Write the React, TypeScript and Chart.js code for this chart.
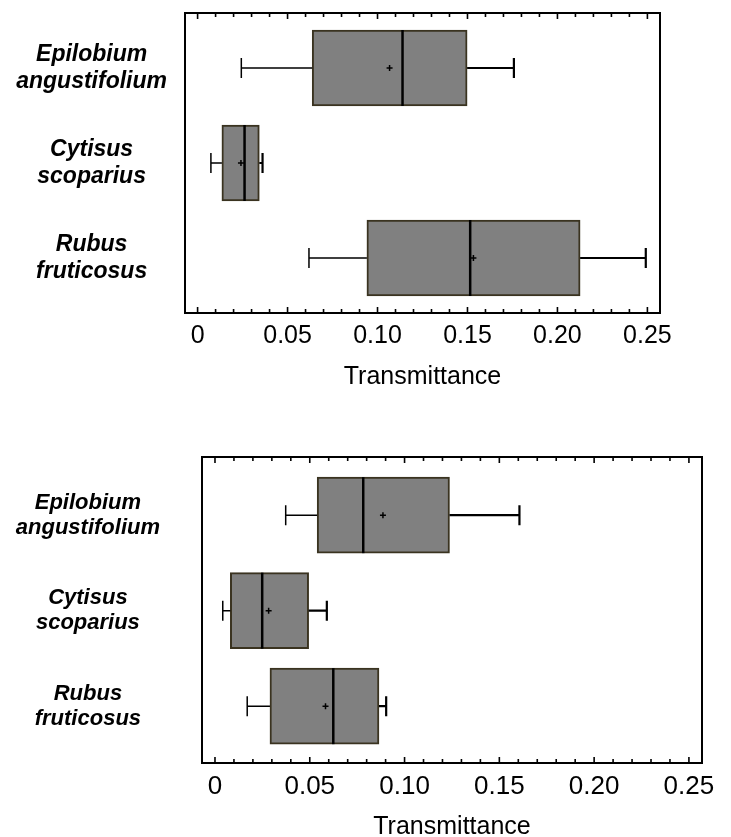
import React, { useEffect, useRef } from 'react';
import { Chart, registerables } from 'chart.js';

Chart.register(...registerables);

// ---------- data ----------
const categories: string[][] = [
  ['Epilobium', 'angustifolium'],
  ['Cytisus', 'scoparius'],
  ['Rubus', 'fruticosus'],
];
const xTickValues = [0, 0.05, 0.1, 0.15, 0.2, 0.25];
const xTickLabels = ['0', '0.05', '0.10', '0.15', '0.20', '0.25'];
const axisTitle = 'Transmittance';

// upper panel
const aWhiskerLow = [0.0243, 0.0074, 0.0619];
const aQ1 = [0.0637, 0.0135, 0.0941];
const aMedian = [0.1139, 0.0261, 0.1515];
const aQ3 = [0.1498, 0.0343, 0.2126];
const aWhiskerHigh = [0.1758, 0.0361, 0.2491];
const aMean = [0.1067, 0.0241, 0.1533];

// lower panel
const bWhiskerLow = [0.0373, 0.0041, 0.017];
const bQ1 = [0.0539, 0.0081, 0.029];
const bMedian = [0.0782, 0.0249, 0.0624];
const bQ3 = [0.1237, 0.0494, 0.0865];
const bWhiskerHigh = [0.1606, 0.059, 0.0903];
const bMean = [0.0886, 0.0283, 0.0583];

const FONT = '"Liberation Sans", Arial, Helvetica, sans-serif';

type PanelProps = {
  top: number;
  height: number;
  low: number[];
  q1: number[];
  median: number[];
  q3: number[];
  high: number[];
  mean: number[];
  xMin: number;
  xMax: number;
  yMin: number;
  yMax: number;
  padding: { top: number; right: number; bottom: number; left: number };
  yAxisWidth: number;
  xAxisHeight: number;
  labelSize: number;
  labelPadding: number;
  tickSize: number;
  tickPadding: number;
  titleLineHeight: number;
  titlePadBottom: number;
};

function makeBoxPlugin(p: PanelProps) {
  return {
    id: 'boxExtras',
    afterDatasetsDraw(chart: any) {
      const ctx = chart.ctx as CanvasRenderingContext2D;
      const xs = chart.scales.x;
      const ys = chart.scales.y;
      const area = chart.chartArea;
      const half = 38;
      const cap = 10;
      ctx.save();
      ctx.strokeStyle = '#000';
      for (let i = 0; i < p.q1.length; i++) {
        const yc = ys.getPixelForValue(i);
        const xl = xs.getPixelForValue(p.low[i]);
        const x1 = xs.getPixelForValue(p.q1[i]);
        const xm = xs.getPixelForValue(p.median[i]);
        const x3 = xs.getPixelForValue(p.q3[i]);
        const xh = xs.getPixelForValue(p.high[i]);
        const xmean = xs.getPixelForValue(p.mean[i]);
        // lower whisker
        ctx.lineWidth = 1.5;
        ctx.beginPath();
        ctx.moveTo(xl, yc);
        ctx.lineTo(x1, yc);
        ctx.moveTo(xl, yc - cap);
        ctx.lineTo(xl, yc + cap);
        ctx.stroke();
        // upper whisker
        ctx.lineWidth = 2.2;
        ctx.beginPath();
        ctx.moveTo(x3, yc);
        ctx.lineTo(xh, yc);
        ctx.moveTo(xh, yc - cap);
        ctx.lineTo(xh, yc + cap);
        ctx.stroke();
        // median
        ctx.lineWidth = 2.5;
        ctx.beginPath();
        ctx.moveTo(xm, yc - half);
        ctx.lineTo(xm, yc + half);
        ctx.stroke();
        // mean marker
        ctx.lineWidth = 1.5;
        ctx.beginPath();
        ctx.moveTo(xmean - 3, yc);
        ctx.lineTo(xmean + 3, yc);
        ctx.moveTo(xmean, yc - 3);
        ctx.lineTo(xmean, yc + 3);
        ctx.stroke();
      }
      // frame
      ctx.lineWidth = 2;
      ctx.strokeRect(area.left, area.top, area.right - area.left, area.bottom - area.top);
      // frame ticks
      ctx.lineWidth = 1.6;
      ctx.beginPath();
      for (let k = 0; k <= 25; k++) {
        const x = xs.getPixelForValue(k / 100);
        const len = k % 5 === 0 ? 6 : 4;
        ctx.moveTo(x, area.top);
        ctx.lineTo(x, area.top + len);
        ctx.moveTo(x, area.bottom);
        ctx.lineTo(x, area.bottom - len);
      }
      ctx.stroke();
      ctx.restore();
    },
  };
}

function Panel(p: PanelProps) {
  const ref = useRef<HTMLCanvasElement>(null);
  useEffect(() => {
    if (!ref.current) return;
    const chart = new Chart(ref.current, {
      type: 'bar',
      data: {
        datasets: [
          {
            data: p.q1.map((q, i) => ({ y: i, x: [q, p.q3[i]] })) as any,
            backgroundColor: '#808080',
            borderColor: '#3a3320',
            borderWidth: 2,
            borderSkipped: false,
            barThickness: 76,
          },
        ],
      },
      options: {
        indexAxis: 'y',
        animation: false,
        responsive: true,
        maintainAspectRatio: false,
        layout: { padding: p.padding },
        plugins: { legend: { display: false }, tooltip: { enabled: false } },
        scales: {
          x: {
            type: 'linear',
            min: p.xMin,
            max: p.xMax,
            offset: false,
            grid: { display: false, drawTicks: false },
            border: { display: false },
            afterBuildTicks: (s: any) => {
              s.ticks = xTickValues.map((v) => ({ value: v }));
            },
            afterFit: (s: any) => {
              s.height = p.xAxisHeight;
              s.paddingLeft = 0;
              s.paddingRight = 0;
            },
            ticks: {
              autoSkip: false,
              maxRotation: 0,
              padding: p.tickPadding,
              color: '#000',
              font: { family: FONT, size: p.tickSize },
              callback: (_v: any, i: number) => xTickLabels[i],
            },
            title: {
              display: true,
              text: axisTitle,
              color: '#000',
              font: { family: FONT, size: 25, lineHeight: p.titleLineHeight },
              padding: { top: 0, bottom: p.titlePadBottom },
            },
          },
          y: {
            type: 'linear',
            min: p.yMin,
            max: p.yMax,
            reverse: true,
            offset: false,
            grid: { display: false, drawTicks: false, offset: false },
            border: { display: false },
            afterBuildTicks: (s: any) => {
              s.ticks = categories.map((_c, i) => ({ value: i }));
            },
            afterFit: (s: any) => {
              s.width = p.yAxisWidth;
              s.paddingTop = 0;
              s.paddingBottom = 0;
            },
            ticks: {
              autoSkip: false,
              crossAlign: 'center',
              padding: p.labelPadding,
              color: '#000',
              font: { family: FONT, size: p.labelSize, style: 'italic', weight: 'bold', lineHeight: 1.15 },
              callback: (v: any) => categories[Number(v)] as any,
            },
          },
        },
      } as any,
      plugins: [makeBoxPlugin(p)],
    });
    return () => chart.destroy();
  }, []);
  return (
    <div style={{ position: 'absolute', left: 0, top: p.top, width: 731, height: p.height }}>
      <canvas ref={ref} />
    </div>
  );
}

export default function App() {
  return (
    <div style={{ position: 'absolute', left: 0, top: 0, width: 731, height: 837, background: '#fff' }}>
      <Panel
        top={0}
        height={400}
        low={aWhiskerLow}
        q1={aQ1}
        median={aMedian}
        q3={aQ3}
        high={aWhiskerHigh}
        mean={aMean}
        xMin={-0.007}
        xMax={0.257}
        yMin={-0.579}
        yMax={2.579}
        padding={{ top: 13, right: 71, bottom: 5, left: 0 }}
        yAxisWidth={185}
        xAxisHeight={82}
        labelSize={23}
        labelPadding={18}
        tickSize={25}
        tickPadding={8}
        titleLineHeight={1.2}
        titlePadBottom={3}
      />
      <Panel
        top={420}
        height={417}
        low={bWhiskerLow}
        q1={bQ1}
        median={bMedian}
        q3={bQ3}
        high={bWhiskerHigh}
        mean={bMean}
        xMin={-0.00685}
        xMax={0.2569}
        yMin={-0.609}
        yMax={2.595}
        padding={{ top: 37, right: 29, bottom: 1, left: 0 }}
        yAxisWidth={202}
        xAxisHeight={73}
        labelSize={22}
        labelPadding={42}
        tickSize={26}
        tickPadding={8}
        titleLineHeight={0.8}
        titlePadBottom={-1}
      />
    </div>
  );
}
